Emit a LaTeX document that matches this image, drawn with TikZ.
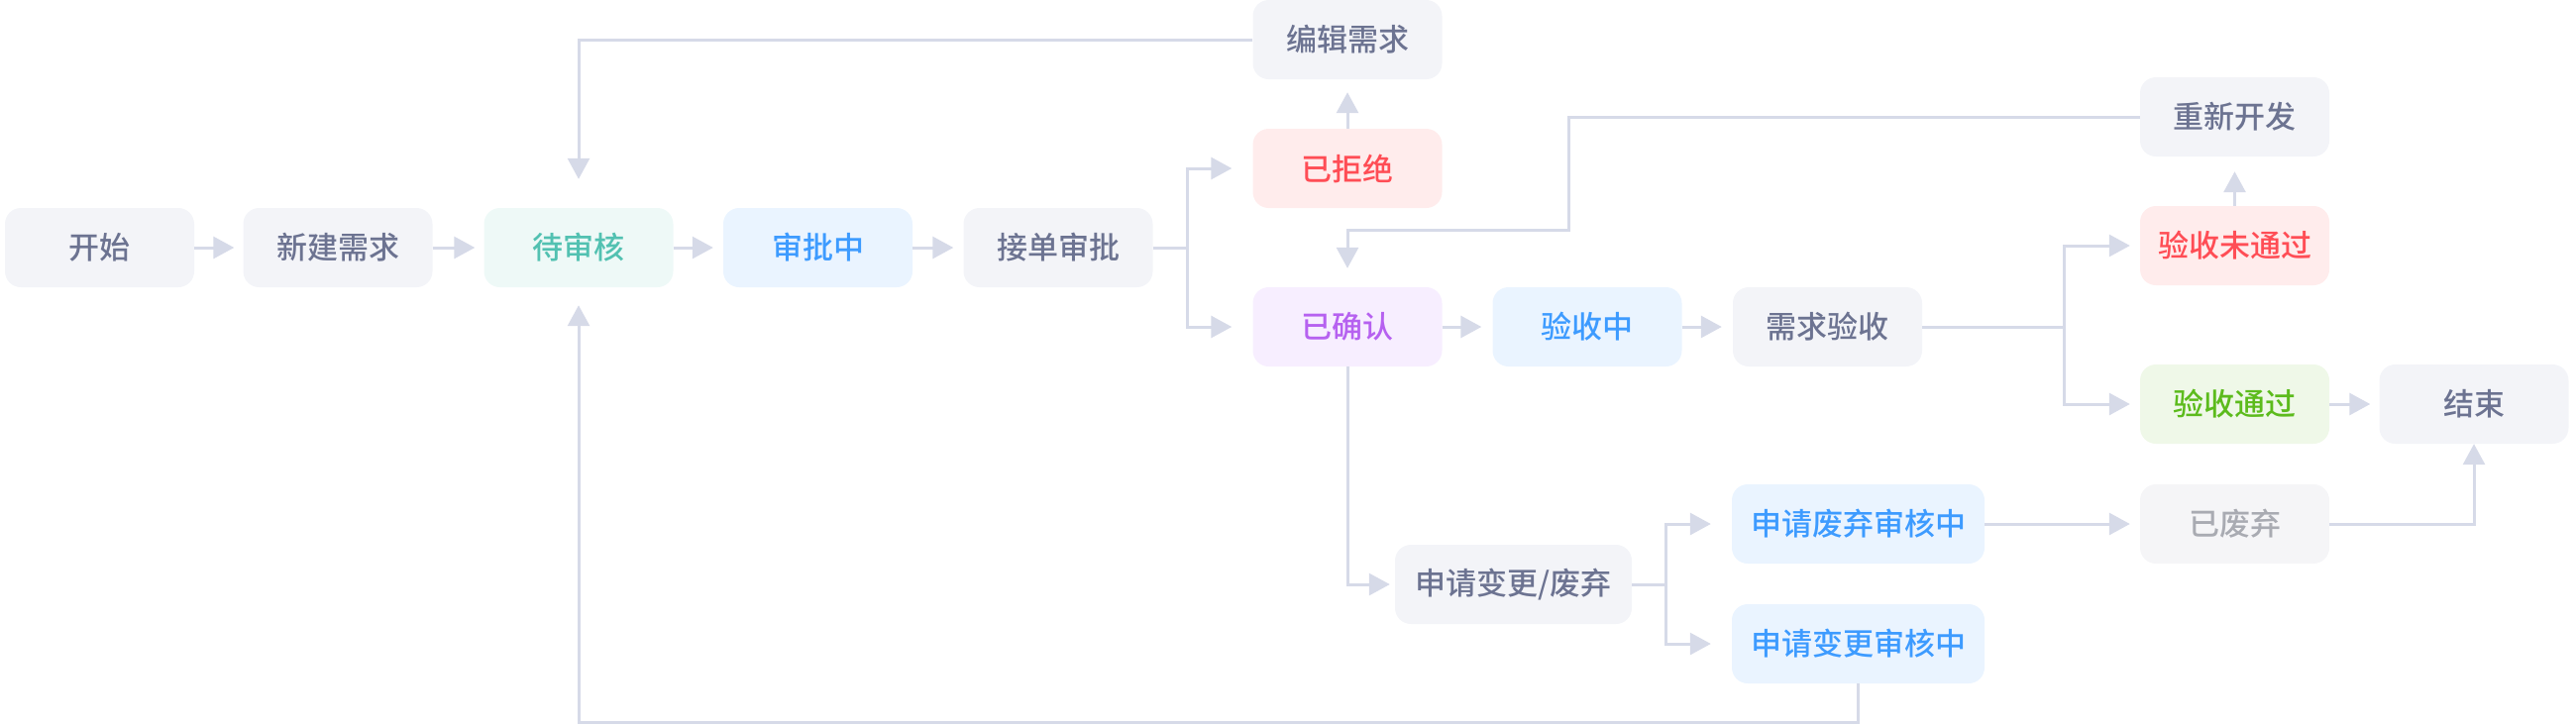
\documentclass[tikz,border=0pt]{standalone}
\usepackage{fontspec}
\setmainfont{Noto Sans CJK SC}[UprightFont=* Medium]
\usetikzlibrary{arrows.meta}
\definecolor{lineC}{HTML}{D6DAE8}
\definecolor{grayF}{HTML}{F3F4F8}
\definecolor{grayT}{HTML}{6C7391}
\definecolor{tealF}{HTML}{EEF9F7}
\definecolor{tealT}{HTML}{52C1B1}
\definecolor{blueF}{HTML}{EAF4FF}
\definecolor{blueT}{HTML}{3D9BFF}
\definecolor{redF}{HTML}{FFECEC}
\definecolor{redT}{HTML}{FF4D55}
\definecolor{purpF}{HTML}{F7EEFF}
\definecolor{purpT}{HTML}{B661F0}
\definecolor{greenF}{HTML}{EFF8E8}
\definecolor{greenT}{HTML}{5CBB1C}
\definecolor{dropF}{HTML}{F5F5F7}
\definecolor{dropT}{HTML}{A9ABB2}
\tikzset{
  box/.style={rectangle, rounded corners=16pt, minimum width=191pt, minimum height=80pt,
    inner sep=0pt, font=\fontsize{31}{36}\selectfont},
  graybox/.style={box, fill=grayF, text=grayT},
  tealbox/.style={box, fill=tealF, text=tealT},
  bluebox/.style={box, fill=blueF, text=blueT},
  redbox/.style={box, fill=redF, text=redT},
  purpbox/.style={box, fill=purpF, text=purpT},
  greenbox/.style={box, fill=greenF, text=greenT},
  dropbox/.style={box, fill=dropF, text=dropT},
  conn/.style={draw=lineC, line width=3pt, -{Triangle[length=21pt,width=22pt]}},
  plain/.style={draw=lineC, line width=3pt},
}
\begin{document}
\begin{tikzpicture}[x=1pt,y=-1pt]
\useasboundingbox (0,0) rectangle (2600,732);
% nodes
\node[graybox] (start) at (100.5,250) {开始};
\node[graybox] (newreq) at (341,250) {新建需求};
\node[tealbox] (pending) at (584,250) {待审核};
\node[bluebox] (approving) at (825.5,250) {审批中};
\node[graybox] (accept) at (1068,250) {接单审批};
\node[graybox] (edit) at (1360,40) {编辑需求};
\node[redbox] (rejected) at (1360,170) {已拒绝};
\node[purpbox] (confirmed) at (1360,330) {已确认};
\node[bluebox] (checking) at (1602,330) {验收中};
\node[graybox] (reqcheck) at (1844.5,330) {需求验收};
\node[graybox] (redev) at (2255.5,118) {重新开发};
\node[redbox] (fail) at (2255.5,248) {验收未通过};
\node[greenbox] (pass) at (2255.5,408) {验收通过};
\node[graybox] (finish) at (2497,408) {结束};
\node[graybox, minimum width=239pt] (change) at (1527.5,590) {申请变更/废弃};
\node[bluebox, minimum width=255pt] (discardrev) at (1875.5,529) {申请废弃审核中};
\node[bluebox, minimum width=255pt] (changerev) at (1875.5,650) {申请变更审核中};
\node[dropbox] (discarded) at (2255.5,529) {已废弃};
% helper coordinates
\coordinate (forkA) at (1198,250);
\coordinate (forkB) at (2083,330);
\coordinate (forkC) at (1681,590);
\coordinate (r1) at (1583,232);
\coordinate (c1) at (584,729);
% connectors
\draw[conn, shorten >=9pt] (start.east) -- (newreq.west);
\draw[conn, shorten >=9pt] (newreq.east) -- (pending.west);
\draw[conn, shorten >=10pt] (pending.east) -- (approving.west);
\draw[conn, shorten >=10pt] (approving.east) -- (accept.west);
\draw[plain] (accept.east) -- (forkA);
\draw[conn, shorten >=21pt] (forkA) |- (rejected.west);
\draw[conn, shorten >=21pt] (forkA) |- (confirmed.west);
\draw[conn, shorten >=13pt] (rejected.north) -- (edit.south);
\draw[conn, shorten >=29pt] (edit.west) -| (pending.north);
\draw[conn, shorten >=19pt] (redev.west) -| (r1) -| (confirmed.north);
\draw[conn, shorten >=11pt] (confirmed.east) -- (checking.west);
\draw[conn, shorten >=11pt] (checking.east) -- (reqcheck.west);
\draw[plain] (reqcheck.east) -- (forkB);
\draw[conn, shorten >=10pt] (forkB) |- (fail.west);
\draw[conn, shorten >=10pt] (forkB) |- (pass.west);
\draw[conn, shorten >=15pt] (fail.north) -- (redev.south);
\draw[conn, shorten >=9pt] (pass.east) -- (finish.west);
\draw[conn, shorten >=5pt] (confirmed.south) |- (change.west);
\draw[plain] (change.east) -- (forkC);
\draw[conn, shorten >=21pt] (forkC) |- (discardrev.west);
\draw[conn, shorten >=21pt] (forkC) |- (changerev.west);
\draw[conn, shorten >=10pt] (discardrev.east) -- (discarded.west);
\draw[conn] (discarded.east) -| (finish.south);
\draw[conn, shorten >=18pt] (changerev.south) |- (c1) -- (pending.south);
\end{tikzpicture}
\end{document}
